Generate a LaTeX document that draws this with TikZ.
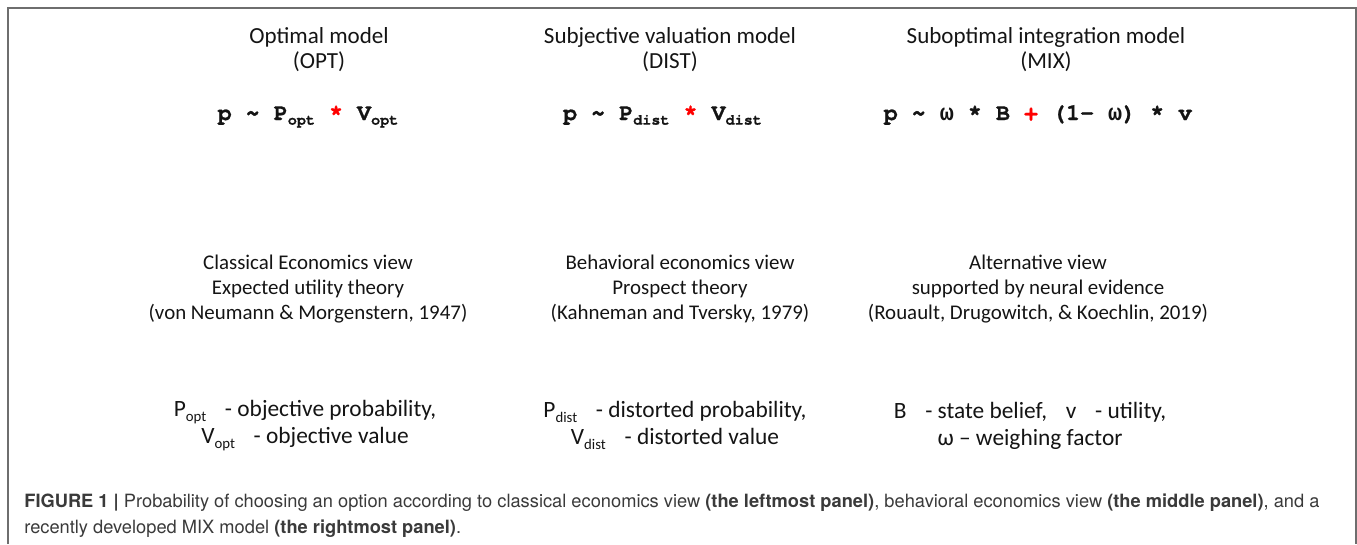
\documentclass[tikz,border=0pt]{standalone}
\usepackage{fontspec}
\setmainfont{Carlito}
\newfontfamily\formulafont{TeX Gyre Cursor}[BoldFeatures={FakeBold=1}]
\newfontfamily\greekmono{Liberation Mono}
\newfontfamily\captionfont{TeX Gyre Heros}
\usepackage{xcolor}
\definecolor{figink}{HTML}{141414}
\definecolor{figframe}{HTML}{6E6E6E}
\definecolor{figcaption}{HTML}{3A3A3A}
\definecolor{figred}{HTML}{FF0000}
% subscripts in the formulas and in the legends
\newcommand{\fsub}[1]{\raisebox{-0.45ex}{\fontsize{8.6}{8.6}\selectfont #1}}
\newcommand{\lsub}[1]{\raisebox{-0.5ex}{\fontsize{8.4}{8.4}\selectfont #1}}
\newcommand{\omg}{{\greekmono\bfseries ω}}
\newcommand{\gap}{\hspace{0.8em}}

\begin{document}
\begin{tikzpicture}[
  x=1cm,
  y=1cm,
  every node/.style={inner sep=0pt, figink},
  title/.style={align=center, font=\fontsize{13.1}{14.2}\selectfont},
  formula/.style={anchor=base, font=\formulafont\bfseries\fontsize{13.3}{14}\selectfont},
  view/.style={align=center, font=\fontsize{11.9}{14.2}\selectfont},
  legend/.style={align=center, font=\fontsize{13.3}{15.4}\selectfont},
  caption/.style={anchor=base west, figcaption, font=\captionfont\fontsize{10.4}{12}\selectfont}
]
  \useasboundingbox (0,0) rectangle (27.14,-10.88);

  % ---- frame, open at the bottom ---------------------------------------
  \draw[figframe, line width=0.7pt]
    (0.16,-10.88) -- (0.16,-0.16) -- (27.12,-0.16) -- (27.12,-10.88);

  % ---- model names -----------------------------------------------------
  \node[title] (optT)  at (6.38,-0.99)  {Optimal model\\(OPT)};
  \node[title] (distT) at (13.40,-0.99) {Subjective valuation model\\(DIST)};
  \node[title] (mixT)  at (20.92,-0.99) {Suboptimal integration model\\(MIX)};

  % ---- formulas --------------------------------------------------------
  \node[formula] (optF) at (6.16,-2.40)
    {p \textasciitilde{} P\fsub{opt} \textcolor{figred}{*} V\fsub{opt}};
  \node[formula] (distF) at (13.25,-2.40)
    {p \textasciitilde{} P\fsub{dist} \textcolor{figred}{*} V\fsub{dist}};
  \node[formula] (mixF) at (20.76,-2.40)
    {p \textasciitilde{} \omg{} * B \textcolor{figred}{+} (1- \omg) * v};

  % ---- views -----------------------------------------------------------
  \node[view] (optV) at (6.16,-5.78)
    {Classical Economics view\\Expected utility theory\\(von Neumann \& Morgenstern, 1947)};
  \node[view] (distV) at (13.60,-5.78)
    {Behavioral economics view\\Prospect theory\\(Kahneman and Tversky, 1979)};
  \node[view] (mixV) at (20.76,-5.78)
    {Alternative view\\supported by neural evidence\\(Rouault, Drugowitch, \& Koechlin, 2019)};

  % ---- symbols ---------------------------------------------------------
  \node[legend] (optL) at (6.10,-8.51)
    {P\lsub{opt}\gap- objective probability,\\V\lsub{opt}\gap- objective value};
  \node[legend] (distL) at (13.50,-8.51)
    {P\lsub{dist}\gap- distorted probability,\\V\lsub{dist}\gap- distorted value};
  \node[legend] (mixL) at (20.60,-8.51)
    {B\gap- state belief,\gap v\gap- utility,\\ω – weighing factor};

  % ---- caption ---------------------------------------------------------
  \node[caption] (cap1) at (0.48,-10.15)
    {\textbf{FIGURE 1 |} Probability of choosing an option according to classical economics view \textbf{(the leftmost panel)}, behavioral economics view \textbf{(the middle panel)}, and a};
  \node[caption] (cap2) at (0.48,-10.66)
    {recently developed MIX model \textbf{(the rightmost panel)}.};
\end{tikzpicture}
\end{document}
